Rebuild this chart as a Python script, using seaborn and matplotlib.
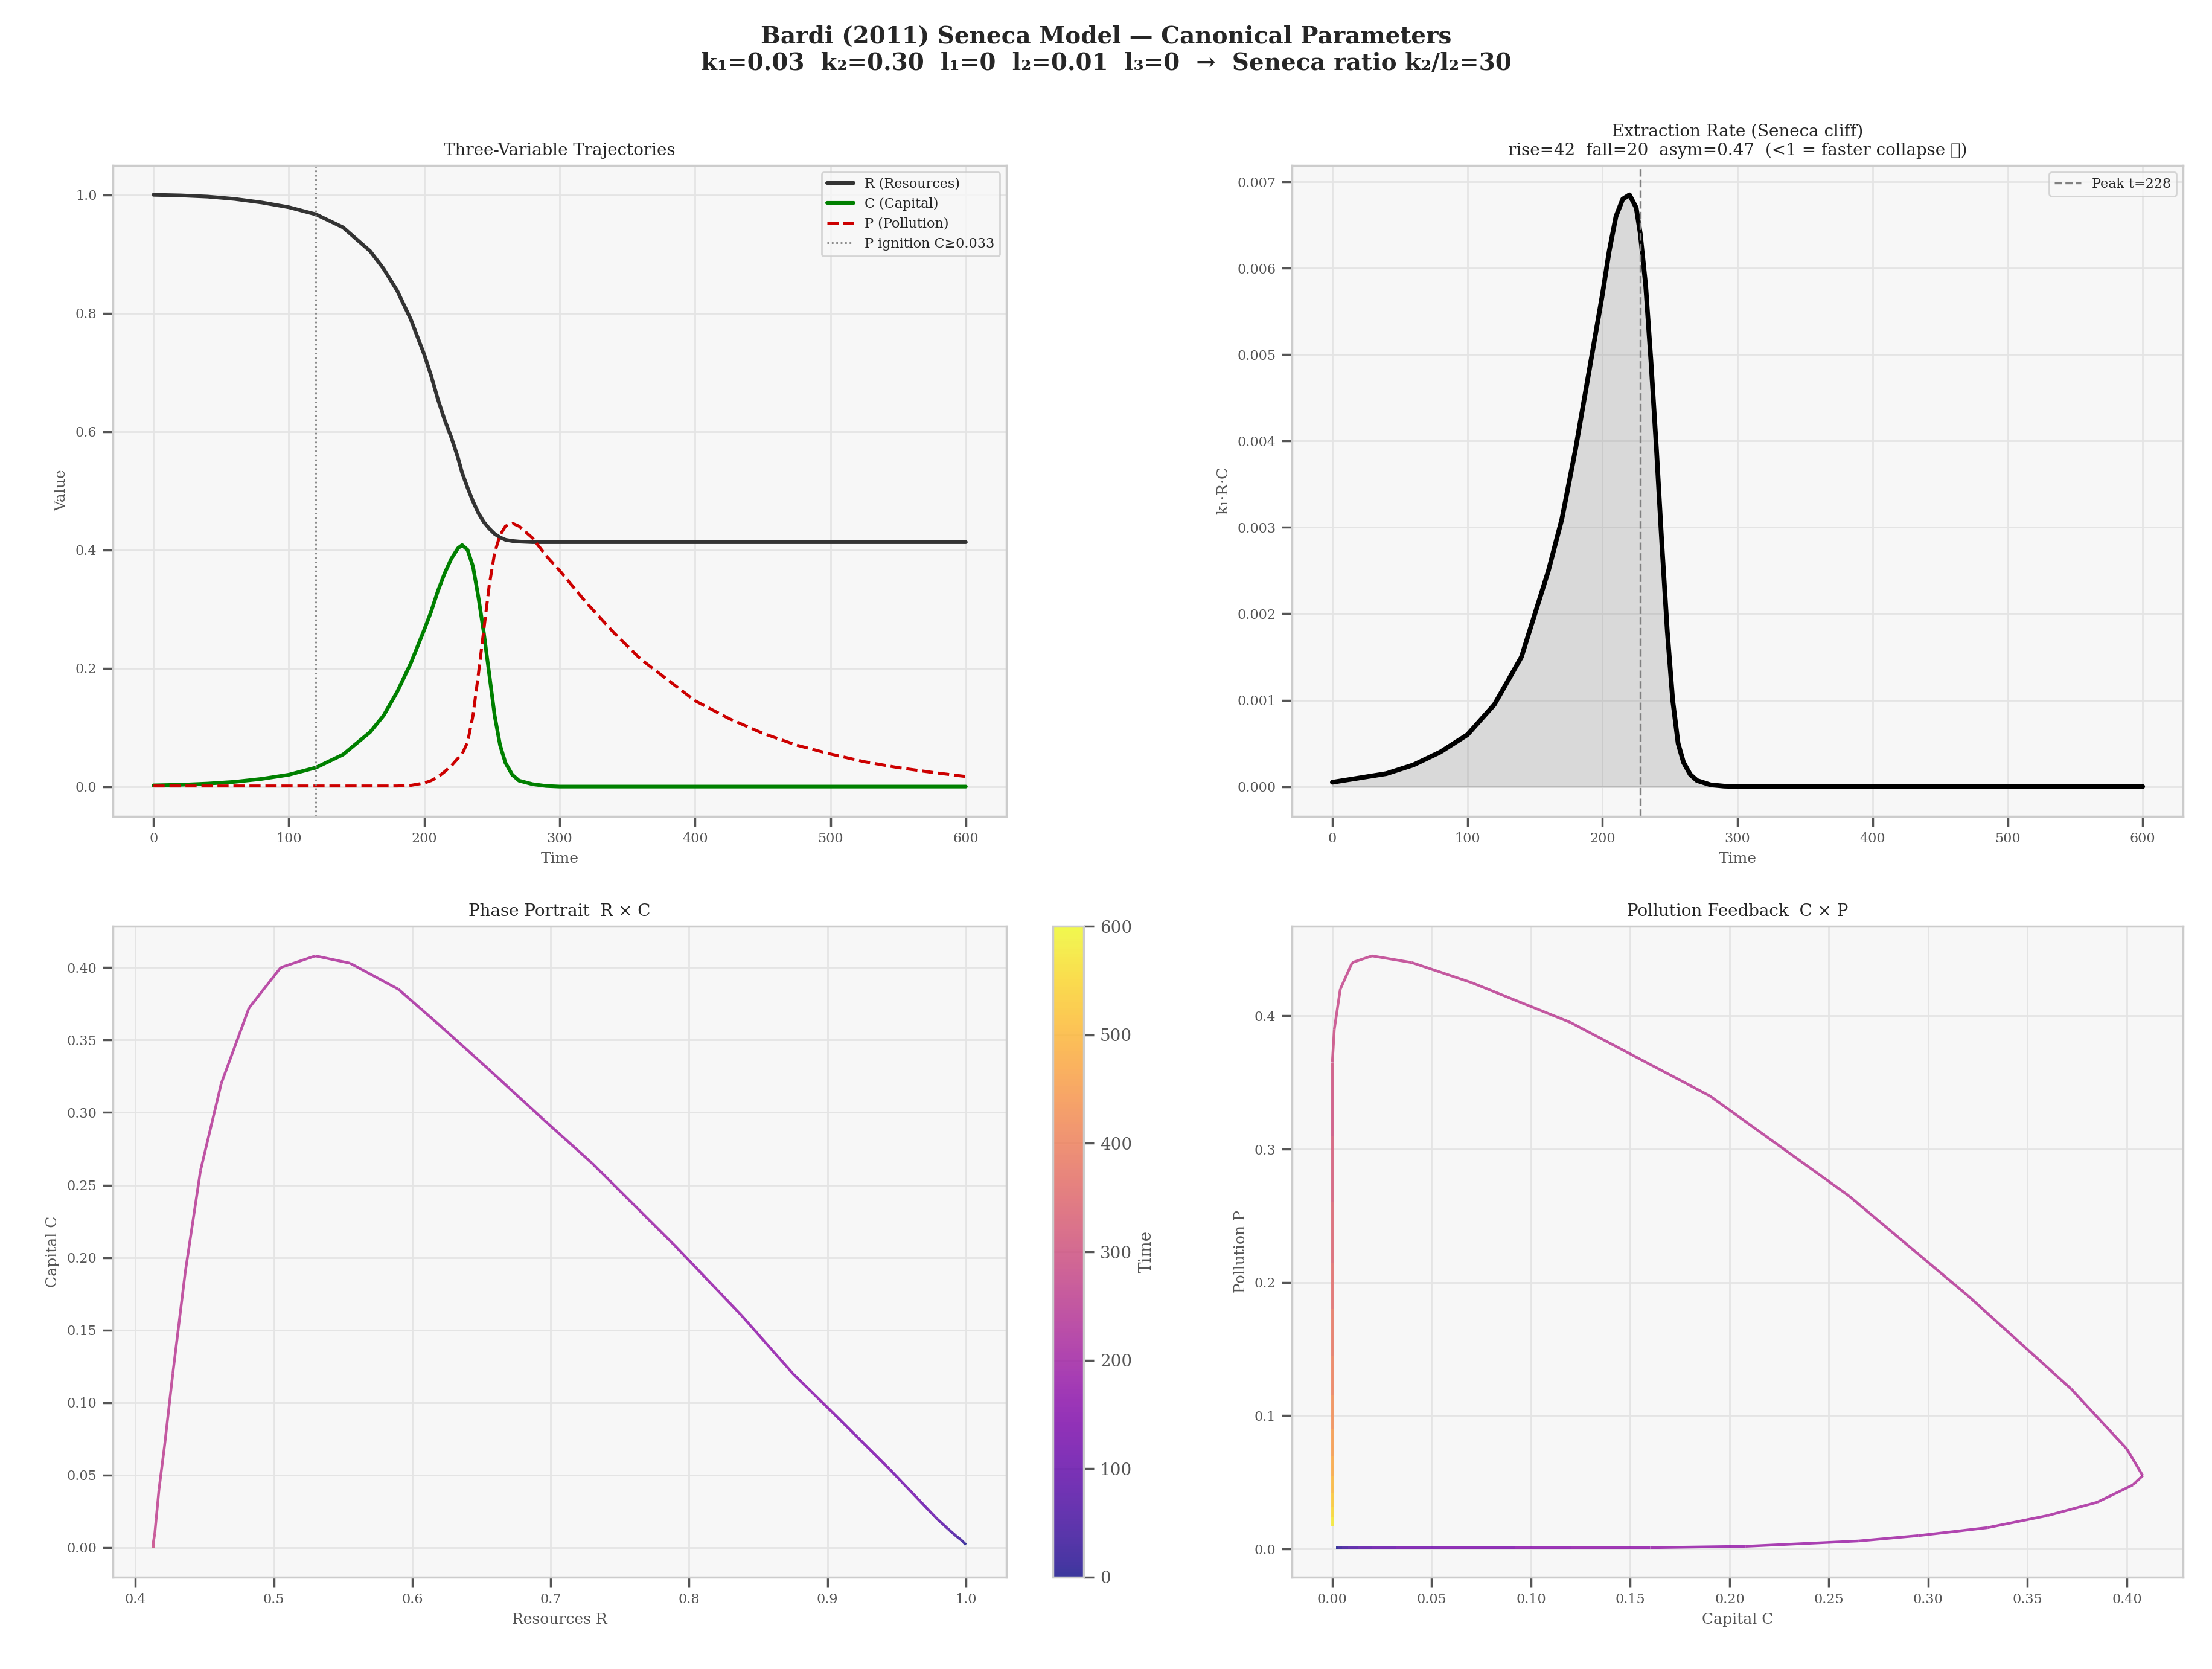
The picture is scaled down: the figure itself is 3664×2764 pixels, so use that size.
import numpy as np
import matplotlib
matplotlib.use('Agg')
import matplotlib.pyplot as plt
import seaborn as sns
from matplotlib.collections import LineCollection

sns.set_theme(style='whitegrid')
plt.rcParams.update({'font.family': 'DejaVu Serif', 'font.size': 9,
                     'axes.facecolor': '#f7f7f7', 'axes.edgecolor': '#cccccc',
                     'grid.color': '#e4e4e4', 'xtick.color': '#555555', 'ytick.color': '#555555',
                     'xtick.bottom': True, 'ytick.left': True, 'axes.labelsize': 9,
                     'axes.titlesize': 10,
                     'axes.labelcolor': '#555555', 'xtick.labelsize': 8, 'ytick.labelsize': 8})

# values
t = [0, 20, 40, 60, 80, 100, 120, 140, 160, 170, 180, 190, 200, 205, 210, 215, 220, 225, 228,
     232, 236, 240, 244, 248, 252, 256, 260, 265, 270, 280, 290, 300, 320, 340, 360, 380, 400,
     425, 450, 475, 500, 525, 550, 575, 600]
R = [1.0, 0.999, 0.997, 0.993, 0.987, 0.979, 0.967, 0.945, 0.905, 0.875, 0.838, 0.79, 0.73,
     0.695, 0.655, 0.62, 0.59, 0.555, 0.53, 0.505, 0.482, 0.462, 0.447, 0.436, 0.427, 0.421,
     0.417, 0.415, 0.414, 0.413, 0.413, 0.413, 0.413, 0.413, 0.413, 0.413, 0.413, 0.413,
     0.413, 0.413, 0.413, 0.413, 0.413, 0.413, 0.413]
C = [0.002, 0.003, 0.005, 0.008, 0.013, 0.02, 0.032, 0.054, 0.092, 0.12, 0.16, 0.208, 0.265,
     0.295, 0.33, 0.36, 0.385, 0.403, 0.408, 0.40, 0.372, 0.32, 0.26, 0.19, 0.12, 0.07, 0.04,
     0.02, 0.01, 0.004, 0.001, 0.0, 0.0, 0.0, 0.0, 0.0, 0.0, 0.0, 0.0, 0.0, 0.0, 0.0, 0.0, 0.0, 0.0]
P = [0.001, 0.001, 0.001, 0.001, 0.001, 0.001, 0.001, 0.001, 0.001, 0.001, 0.001, 0.002, 0.006,
     0.01, 0.016, 0.025, 0.035, 0.048, 0.055, 0.075, 0.12, 0.19, 0.265, 0.34, 0.395, 0.425,
     0.44, 0.445, 0.44, 0.42, 0.39, 0.365, 0.31, 0.26, 0.215, 0.18, 0.145, 0.115, 0.09, 0.07,
     0.055, 0.042, 0.032, 0.024, 0.017]
E = [0.00005, 0.0001, 0.00015, 0.00025, 0.0004, 0.0006, 0.00095, 0.0015, 0.0025, 0.0031,
     0.0039, 0.0048, 0.0057, 0.0062, 0.0066, 0.0068, 0.00685, 0.0067, 0.0064, 0.0058, 0.0049,
     0.0039, 0.0028, 0.0018, 0.001, 0.0005, 0.00028, 0.00014, 0.00007, 0.00002, 0.000005,
     0, 0, 0, 0, 0, 0, 0, 0, 0, 0, 0, 0, 0, 0]
peak_t = 228
ignition_t = 120

fig, axes = plt.subplots(2, 2, figsize=(18.32, 13.82))
ax1, ax2, ax3, ax4 = axes.flat
ax1.set_position([0.051, 0.511, 0.404, 0.39])
ax2.set_position([0.584, 0.511, 0.403, 0.39])
ax3.set_position([0.051, 0.055, 0.404, 0.39])
ax4.set_position([0.584, 0.055, 0.403, 0.39])
cax = fig.add_axes([0.476, 0.055, 0.014, 0.39])

sns.lineplot(x=t, y=R, ax=ax1, color='#333333', lw=2.2, label='R (Resources)')
sns.lineplot(x=t, y=C, ax=ax1, color='green', lw=2.2, label='C (Capital)')
ax1.plot(t, P, color='#cc0000', lw=1.8, ls='--', label='P (Pollution)')
ax1.axvline(ignition_t, color='gray', ls=':', lw=1, label='P ignition C≥0.033')
ax1.set(title='Three-Variable Trajectories', xlabel='Time', ylabel='Value')
ax1.legend(fontsize=8, loc='upper right')

ax2.plot(t, E, color='black', lw=2.8)
ax2.fill_between(t, E, color='gray', alpha=0.25)
ax2.axvline(peak_t, color='gray', ls='--', lw=1.2, label=f'Peak t={peak_t}')
ax2.set(title='Extraction Rate (Seneca cliff)\nrise=42  fall=20  asym=0.47  (<1 = faster collapse \U0001F4A5)',
        xlabel='Time', ylabel='k₁·R·C')
ax2.legend(fontsize=8, loc='upper right')

def colored(ax, x, y):
    pts = np.array([x, y]).T.reshape(-1, 1, 2)
    segs = np.concatenate([pts[:-1], pts[1:]], axis=1)
    lc = LineCollection(segs, cmap='plasma', norm=plt.Normalize(0, 600), alpha=0.8, lw=1.6)
    lc.set_array(np.array(t[:-1], dtype=float))
    ax.add_collection(lc)
    ax.autoscale()
    return lc

lc = colored(ax3, R, C)
ax3.set(title='Phase Portrait  R × C', xlabel='Resources R', ylabel='Capital C')
cb = fig.colorbar(lc, cax=cax)
cb.set_label('Time', fontsize=10, color='#555555')
cb.ax.tick_params(labelsize=10)
cb.outline.set_edgecolor('#cccccc')

colored(ax4, C, P)
ax4.set(title='Pollution Feedback  C × P', xlabel='Capital C', ylabel='Pollution P')

fig.suptitle('Bardi (2011) Seneca Model — Canonical Parameters\n'
             'k₁=0.03  k₂=0.30  l₁=0  l₂=0.01  l₃=0  →  Seneca ratio k₂/l₂=30',
             fontsize=14, fontweight='bold', y=0.985)
fig.savefig('out.png', dpi=200)
